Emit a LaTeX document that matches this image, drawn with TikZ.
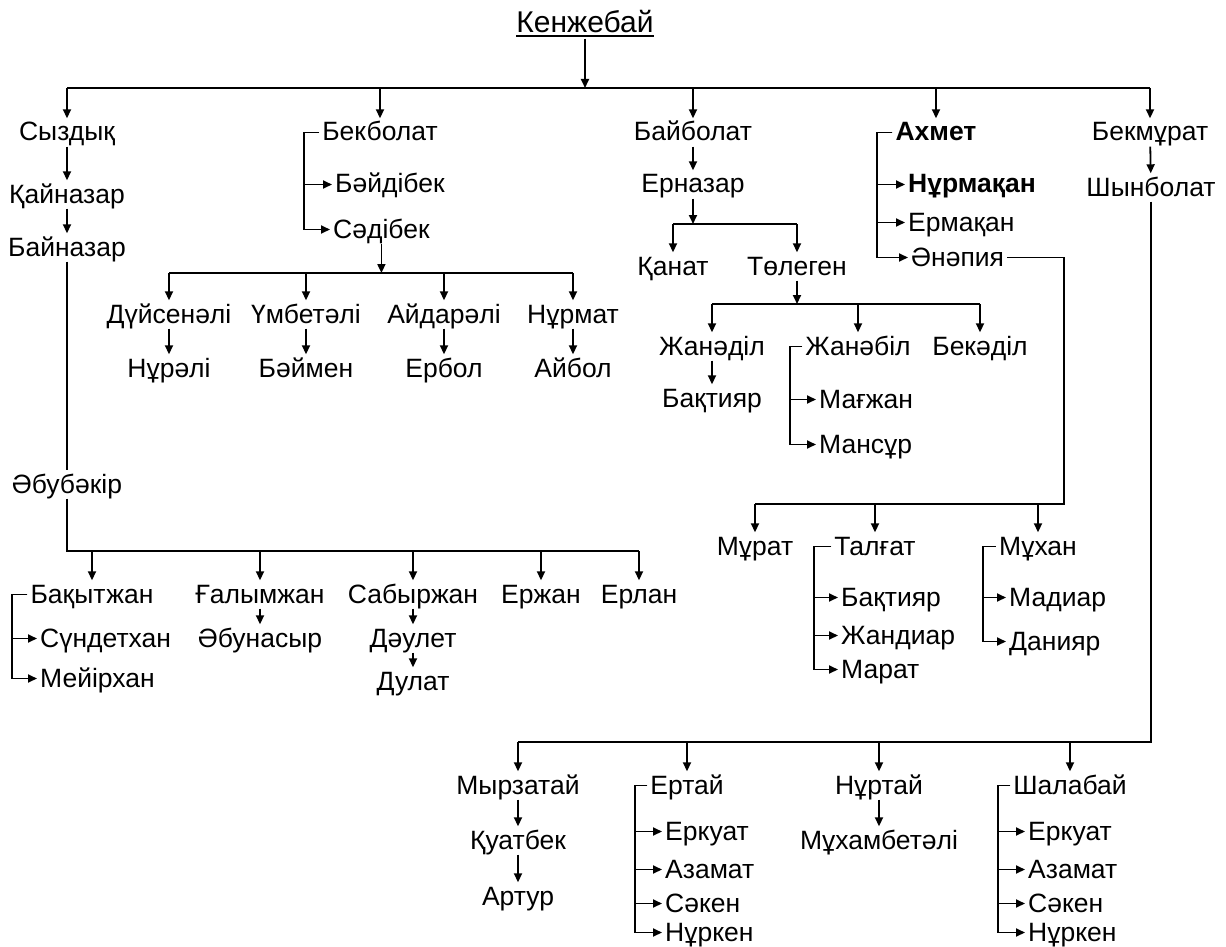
\documentclass[tikz,border=0pt]{standalone}
\usepackage{fontspec}
\setmainfont{Liberation Sans}
\usetikzlibrary{arrows.meta}
\begin{document}
\begin{tikzpicture}[x=1pt,y=-1pt]
            \tikzstyle{nom}=[anchor=base,font=\fontsize{26.5}{30}\selectfont,inner xsep=3pt,inner ysep=4.5pt,text height=18pt,text depth=1pt]
            \tikzstyle{fils}=[nom,anchor=base west]
            \tikzstyle{gras}=[font=\fontsize{26.5}{30}\selectfont\bfseries]
            \tikzstyle{fleche}=[line width=1.8pt,-{Triangle[length=9pt,width=8pt]}]
            \tikzstyle{trait}=[line width=1.8pt]
            \useasboundingbox (0,0) rectangle (1226,947);
            % racine
            \node[nom,font=\fontsize{30}{34}\selectfont] (kenz) at (585,33) {Кенжебай};
            \draw[trait] ([yshift=-3pt,xshift=3pt]kenz.base west) -- ([yshift=-3pt,xshift=-3pt]kenz.base east);
            \coordinate (b0) at (580,88);
            \node[nom] (syz) at (67,141) {Сыздық};
            \node[nom] (bekb) at (380,141) {Бекболат};
            \node[nom] (baib) at (693,141) {Байболат};
            \node[nom,gras] (ahm) at (936,141) {Ахмет};
            \node[nom] (bekm) at (1150,141) {Бекмұрат};
            \draw[fleche] (kenz) -- (kenz |- b0);
            \draw[trait] (syz |- b0) -- (bekm |- b0);
            \foreach \n in {syz,bekb,baib,ahm,bekm} \draw[fleche] (\n |- b0) -- (\n);
            % Сыздық
            \node[nom] (kai) at (67,203) {Қайназар};
            \node[nom] (bain) at (67,256) {Байназар};
            \node[nom] (abub) at (67,493) {Әбубәкір};
            \coordinate (b2) at (67,551);
            \node[nom] (baq) at (92,603) {Бақытжан};
            \node[nom] (gal) at (260,603) {Ғалымжан};
            \node[nom] (sab) at (413,603) {Сабыржан};
            \node[nom] (erzh) at (541,603) {Ержан};
            \node[nom] (erlan) at (639,603) {Ерлан};
            \node[fils] (sund) at (37,647) {Сүндетхан};
            \node[fils] (meir) at (37,687) {Мейірхан};
            \node[nom] (abun) at (260,647) {Әбунасыр};
            \node[nom] (daul) at (413,647) {Дәулет};
            \node[nom] (dul) at (413,690) {Дулат};
            \draw[fleche] (syz) -- (kai);
            \draw[fleche] (kai) -- (bain);
            \draw[trait] (bain) -- (abub);
            \draw[trait] (abub) |- (erlan |- b2);
            \foreach \n in {baq,gal,sab,erzh,erlan} \draw[fleche] (\n |- b2) -- (\n);
            \foreach \c in {sund,meir} \draw[fleche] (baq.west) -- ++(-15,0) |- (\c);
            \draw[fleche] (gal) -- (abun);
            \draw[fleche] (sab) -- (daul);
            \draw[fleche] (daul) -- (dul);
            % Бекболат
            \node[fils] (baid) at (332,193) {Бәйдібек};
            \node[fils] (sadi) at (330,238) {Сәдібек};
            \coordinate (b1) at (382,273);
            \node[nom] (duis) at (169,323) {Дүйсенәлі};
            \node[nom] (umb) at (306,323) {Үмбетәлі};
            \node[nom] (aid) at (444,323) {Айдарәлі};
            \node[nom] (nurm) at (573,323) {Нұрмат};
            \node[nom] (nurali) at (169,377) {Нұрәлі};
            \node[nom] (baim) at (306,377) {Бәймен};
            \node[nom] (erbol) at (444,377) {Ербол};
            \node[nom] (aibol) at (573,377) {Айбол};
            \foreach \c in {baid,sadi} \draw[fleche] (bekb.west) -- ++(-15,0) |- (\c);
            \draw[fleche] (sadi) -- (sadi |- b1);
            \draw[trait] (duis |- b1) -- (nurm |- b1);
            \foreach \n in {duis,umb,aid,nurm} \draw[fleche] (\n |- b1) -- (\n);
            \draw[fleche] (duis) -- (nurali);
            \draw[fleche] (umb) -- (baim);
            \draw[fleche] (aid) -- (erbol);
            \draw[fleche] (nurm) -- (aibol);
            % Байболат
            \node[nom] (ern) at (693,193) {Ерназар};
            \coordinate (b3) at (693,224);
            \node[nom] (qan) at (673,275) {Қанат};
            \node[nom] (tol) at (797,275) {Төлеген};
            \coordinate (b4) at (797,304);
            \node[nom] (zhd) at (712,355) {Жанәділ};
            \node[nom] (zhb) at (858,355) {Жанәбіл};
            \node[nom] (bekd) at (980,355) {Бекәділ};
            \node[nom] (baqt) at (712,407) {Бақтияр};
            \node[fils] (magz) at (816,408) {Мағжан};
            \node[fils] (mans) at (816,453) {Мансұр};
            \draw[fleche] (baib) -- (ern);
            \draw[fleche] (ern) -- (ern |- b3);
            \draw[trait] (qan |- b3) -- (tol |- b3);
            \foreach \n in {qan,tol} \draw[fleche] (\n |- b3) -- (\n);
            \draw[fleche] (tol) -- (tol |- b4);
            \draw[trait] (zhd |- b4) -- (bekd |- b4);
            \foreach \n in {zhd,zhb,bekd} \draw[fleche] (\n |- b4) -- (\n);
            \draw[fleche] (zhd) -- (baqt);
            \foreach \c in {magz,mans} \draw[fleche] (zhb.west) -- ++(-12,0) |- (\c);
            % Ахмет
            \node[fils,gras] (nurmq) at (905,193) {Нұрмақан};
            \node[fils] (ermq) at (905,231) {Ермақан};
            \node[fils] (anap) at (908,266) {Әнәпия};
            \coordinate (b6) at (1064,504);
            \node[nom] (murat) at (755,555) {Мұрат};
            \node[nom] (talg) at (875,555) {Талғат};
            \node[nom] (muhan) at (1038,555) {Мұхан};
            \node[fils] (baqt2) at (838,606) {Бақтияр};
            \node[fils] (zhan) at (838,644) {Жандиар};
            \node[fils] (marat) at (838,678) {Марат};
            \node[fils] (madi) at (1006,606) {Мадиар};
            \node[fils] (dani) at (1006,650) {Данияр};
            \foreach \c in {nurmq,ermq,anap} \draw[fleche] (ahm.west) -- ++(-15,0) |- (\c);
            \draw[trait] (anap) -| (b6) -- (murat |- b6);
            \foreach \n in {murat,talg,muhan} \draw[fleche] (\n |- b6) -- (\n);
            \foreach \c in {baqt2,zhan,marat} \draw[fleche] (talg.west) -- ++(-17,0) |- (\c);
            \foreach \c in {madi,dani} \draw[fleche] (muhan.west) -- ++(-13,0) |- (\c);
            % Бекмұрат
            \node[nom] (shyn) at (1151,196) {Шынболат};
            \coordinate (b5) at (1151,742);
            \node[nom] (myrz) at (518,794) {Мырзатай};
            \node[nom] (ert) at (687,794) {Ертай};
            \node[nom] (nurt) at (879,794) {Нұртай};
            \node[nom] (shal) at (1070,794) {Шалабай};
            \node[nom] (kuat) at (518,849) {Қуатбек};
            \node[nom] (artur) at (518,905) {Артур};
            \node[nom] (muhb) at (879,849) {Мұхамбетәлі};
            \node[fils] (erk1) at (662,840) {Еркуат};
            \node[fils] (az1) at (662,878) {Азамат};
            \node[fils] (sak1) at (662,912) {Сәкен};
            \node[fils] (nurk1) at (662,941) {Нұркен};
            \node[fils] (erk2) at (1025,840) {Еркуат};
            \node[fils] (az2) at (1025,878) {Азамат};
            \node[fils] (sak2) at (1025,912) {Сәкен};
            \node[fils] (nurk2) at (1025,941) {Нұркен};
            \draw[fleche] (bekm) -- (shyn);
            \draw[trait] (shyn) |- (myrz |- b5);
            \foreach \n in {myrz,ert,nurt,shal} \draw[fleche] (\n |- b5) -- (\n);
            \draw[fleche] (myrz) -- (kuat);
            \draw[fleche] (kuat) -- (artur);
            \draw[fleche] (nurt) -- (muhb);
            \foreach \c in {erk1,az1,sak1,nurk1} \draw[fleche] (ert.west) -- ++(-12,0) |- (\c);
            \foreach \c in {erk2,az2,sak2,nurk2} \draw[fleche] (shal.west) -- ++(-12,0) |- (\c);
\end{tikzpicture}
\end{document}
